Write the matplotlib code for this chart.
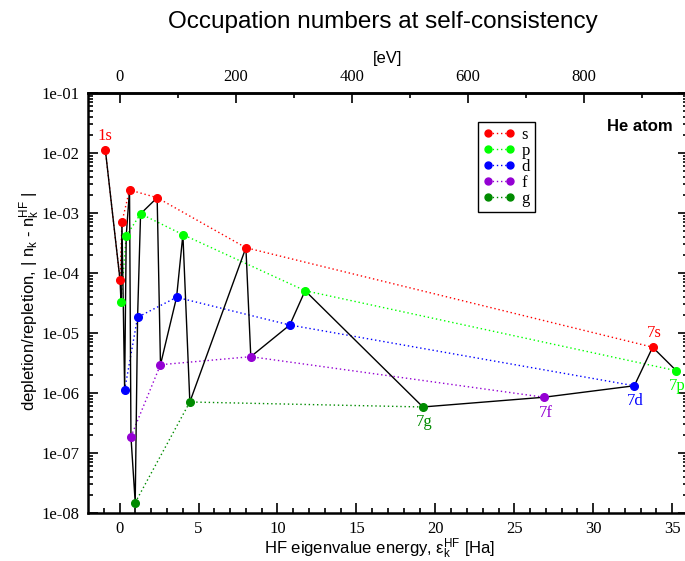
import numpy as np
import matplotlib
matplotlib.use("Agg")
import matplotlib.pyplot as plt
from matplotlib.ticker import FixedLocator, LogLocator, NullFormatter, FuncFormatter

plt.rcParams['mathtext.fontset'] = 'custom'
plt.rcParams['mathtext.rm'] = 'Liberation Sans'
plt.rcParams['mathtext.it'] = 'Liberation Sans'

# HF eigenvalue energies [Ha] and |n_k - n_k^HF| per angular momentum
s_x = [-0.90, 0.03, 0.15, 0.63, 2.38, 8.00, 33.76]
s_y = [1.12e-2, 7.6e-5, 7.1e-4, 2.42e-3, 1.8e-3, 2.64e-4, 5.8e-6]
p_x = [0.09, 0.42, 1.33, 4.01, 11.75, 35.26]
p_y = [3.25e-5, 4.14e-4, 9.7e-4, 4.36e-4, 5.07e-5, 2.35e-6]
d_x = [0.32, 1.14, 3.61, 10.78, 32.60]
d_y = [1.12e-6, 1.83e-5, 3.94e-5, 1.36e-5, 1.32e-6]
f_x = [0.72, 2.59, 8.31, 26.88]
f_y = [1.87e-7, 2.96e-6, 4.03e-6, 8.5e-7]
g_x = [0.99, 4.45, 19.21]
g_y = [1.49e-8, 7.08e-7, 5.85e-7]

names = ['s', 'p', 'd', 'f', 'g']
colors = ['#ff0000', '#00ff00', '#0000ff', '#9400d3', '#008b00']
series = [(s_x, s_y), (p_x, p_y), (d_x, d_y), (f_x, f_y), (g_x, g_y)]

ha_ticks = [0, 5, 10, 15, 20, 25, 30, 35]
ev_ticks = [0, 200, 400, 600, 800]
HA2EV = 27.2114

serif = 'Liberation Serif'
sans = 'Liberation Sans'

fig = plt.figure(figsize=(6.85, 5.61), dpi=100)
ax = fig.add_axes([88/685, 48/561, 600/685, 420/561])

# dotted per-series lines
for (x, y), c in zip(series, colors):
    ax.plot(x, y, color=c, lw=1.0, ls=(0, (1, 2)), zorder=2)

# black line through all points, ordered by energy
all_x = np.concatenate([np.array(x) for x, y in series])
all_y = np.concatenate([np.array(y) for x, y in series])
order = np.argsort(all_x)
ax.plot(all_x[order], all_y[order], color='black', lw=1.0, zorder=3)

handles = []
for (x, y), c, n in zip(series, colors, names):
    ax.plot(x, y, ls='none', marker='o', ms=5.5, color=c, zorder=4)
    h, = ax.plot([], [], color=c, lw=1.0, ls=(0, (1, 2)), marker='o', ms=5, label=n)
    handles.append(h)

ax.set_yscale('log')
ax.set_xlim(-2, 36)
ax.set_ylim(1e-8, 1e-1)

ax.xaxis.set_major_locator(FixedLocator(ha_ticks))
ax.xaxis.set_minor_locator(FixedLocator(np.arange(-1, 36)))
ax.yaxis.set_major_locator(FixedLocator(10.0 ** np.arange(-8, 0)))
ax.yaxis.set_minor_locator(LogLocator(base=10, subs=np.arange(2, 10), numticks=20))
ax.yaxis.set_minor_formatter(NullFormatter())
ax.yaxis.set_major_formatter(FuncFormatter(lambda v, pos: "1e%03d" % int(round(np.log10(v)))))

ax.tick_params(which='both', direction='in', top=False, right=True, width=1.2,
               labelsize=12, pad=6)
ax.tick_params(which='major', length=7)
ax.tick_params(which='minor', length=3.5)
for lab in ax.get_xticklabels() + ax.get_yticklabels():
    lab.set_fontfamily(serif)
for sp in ax.spines.values():
    sp.set_linewidth(1.8)

sec = ax.secondary_xaxis('top', functions=(lambda x: x * HA2EV, lambda e: e / HA2EV))
sec.xaxis.set_major_locator(FixedLocator(ev_ticks))
sec.xaxis.set_minor_locator(FixedLocator([100, 300, 500, 700, 900]))
sec.tick_params(which='both', direction='in', width=1.2, labelsize=12, pad=6)
sec.tick_params(which='major', length=7)
sec.tick_params(which='minor', length=3.5)
sec.spines['top'].set_linewidth(1.8)
for lab in sec.get_xticklabels():
    lab.set_fontfamily(serif)

# labels for 1s and n=7 shell
ax.annotate('1s', (s_x[0], s_y[0]), xytext=(0, 10), textcoords='offset points',
            ha='center', va='center', color=colors[0], fontsize=12, family=serif)
ax.annotate('7s', (s_x[-1], s_y[-1]), xytext=(1, 10), textcoords='offset points',
            ha='center', va='center', color=colors[0], fontsize=12, family=serif)
for (x, y), c, n in zip(series[1:], colors[1:], names[1:]):
    ax.annotate('7' + n, (x[-1], y[-1]), xytext=(1, -11), textcoords='offset points',
                ha='center', va='center', color=c, fontsize=12, family=serif,
                annotation_clip=False)

fig.text(673/685, 1 - 127/561, 'He atom', ha='right', va='center', fontsize=12,
         fontweight='bold', family=sans)

leg = fig.legend(handles=handles, loc='upper left', bbox_to_anchor=(478/685, 1 - 122/561),
                 numpoints=2, handlelength=1.9, handletextpad=0.4, labelspacing=0.0,
                 borderpad=0.3, borderaxespad=0, fancybox=False, framealpha=1,
                 edgecolor='black', prop={'family': serif, 'size': 12})
leg.get_frame().set_linewidth(1.0)

fig.text(383/685, 1 - 22/561, 'Occupation numbers at self-consistency', ha='center',
         va='center', fontsize=17.5, family=sans)
fig.text(388/685, 1 - 58/561, '[eV]', ha='center', va='center', fontsize=12, family=sans)
fig.text(380/685, 1 - 549/561, r'HF eigenvalue energy, ε$_\mathrm{k}^\mathrm{HF}$ [Ha]',
         ha='center', va='center', fontsize=12, family=sans)
fig.text(30/685, 1 - 301/561, r'depletion/repletion, | n$_\mathrm{k}$ - n$_\mathrm{k}^\mathrm{HF}$ |',
         ha='center', va='center', rotation=90, fontsize=12, family=sans)

fig.savefig('out.png', dpi=100)
